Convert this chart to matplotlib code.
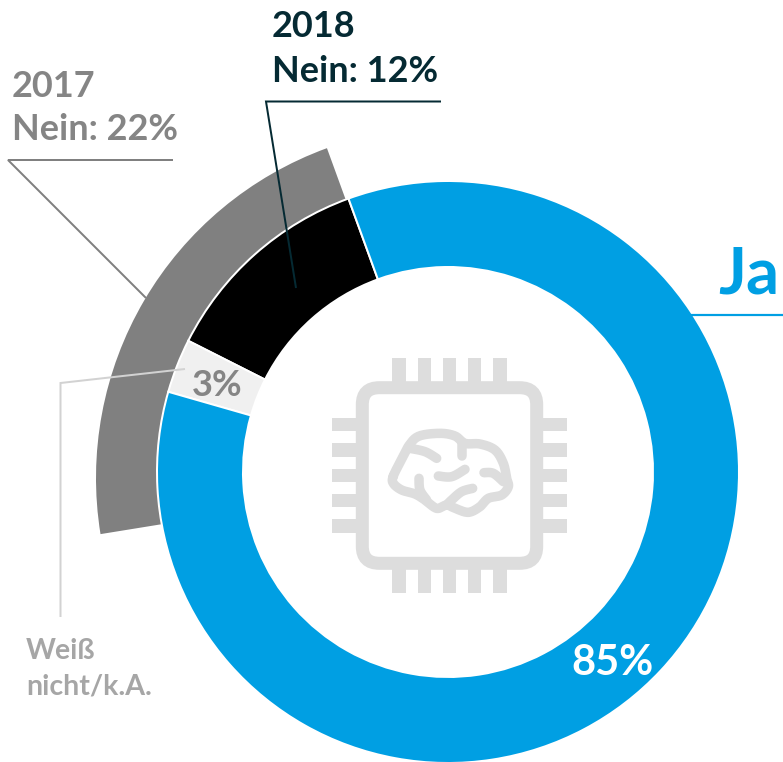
import numpy as np
import matplotlib
matplotlib.use("Agg")
import matplotlib.pyplot as plt
from matplotlib.patches import FancyBboxPatch, Rectangle

# data
categories_2018 = ["Nein", "Weiß nicht/k.A.", "Ja"]
values_2018 = [12, 3, 85]
values_2017 = [22, 78]
year_old = "2017"
year_new = "2018"

W, H = 783, 762
BLUE, BLACK, LIGHT, GRAY = "#009fe3", "#000000", "#f0f0f0", "#808080"
DARK, TXTGRAY, PALE, ICON = "#052a33", "#858585", "#a6a6a6", "#dddddd"
FONT = "Lato"

fig = plt.figure(figsize=(W / 100, H / 100), dpi=100)
ax = fig.add_axes([0, 0, 1, 1])


def Y(y):
    return H - y


def px(p):
    return p * 0.72


# outer 2017 ring
ax.pie(values_2017, colors=[GRAY, "none"], startangle=90 + 20, counterclock=True,
       center=(447, Y(478)), radius=351, wedgeprops=dict(width=72, linewidth=0))
# inner 2018 ring
ax.pie(values_2018, colors=[BLACK, LIGHT, BLUE], startangle=90 + 20, counterclock=True,
       center=(448, Y(472)), radius=291,
       wedgeprops=dict(width=86, linewidth=px(2), edgecolor="white"))

ax.set_xlim(0, W)
ax.set_ylim(0, H)
ax.set_axis_off()


def line(xs, ys, color, lw):
    ax.plot(xs, [Y(v) for v in ys], color=color, lw=px(lw), solid_joinstyle="miter",
            solid_capstyle="butt", zorder=3)


line([441, 266, 296], [101.5, 101.5, 288], DARK, 2)
line([173, 8, 146], [160, 160, 298], GRAY, 2)
line([185, 60.5, 60.5], [369, 383, 617], "#d2d2d2", 2)
line([690, 783], [314.5, 314.5], BLUE, 2.2)


def text(x, y, s, color, size):
    ax.text(x, Y(y), s, color=color, fontsize=size, fontweight="bold", family=FONT,
            ha="left", va="baseline", zorder=4, clip_on=True)


text(272, 37, year_new, DARK, 26)
text(272, 82, f"Nein: {values_2018[0]}%", DARK, 26)
text(12, 97, year_old, TXTGRAY, 26)
text(12, 140, f"Nein: {values_2017[0]}%", TXTGRAY, 26)
text(192, 396, f"{values_2018[1]}%", TXTGRAY, 26)
text(571, 675, f"{values_2018[2]}%", "white", 30)
text(26, 659, "Weiß", PALE, 20.5)
text(26, 695, "nicht/k.A.", PALE, 20.5)
text(718, 294, categories_2018[2], BLUE, 47)

# chip icon
ax.add_patch(FancyBboxPatch((362.3 + 17, Y(563.3) + 17), 174.4 - 34, 175.6 - 34,
                            boxstyle="round,pad=17,rounding_size=17", fc="none", ec=ICON,
                            lw=px(13), zorder=2))
pin = 13.3
for cx in [399, 424.3, 449.3, 474.7, 500]:
    ax.add_patch(Rectangle((cx - pin / 2, Y(382)), pin, 24, fc=ICON, lw=0, zorder=2))
    ax.add_patch(Rectangle((cx - pin / 2, Y(593)), pin, 24, fc=ICON, lw=0, zorder=2))
for cy in [424.7, 450, 475.3, 500.7, 526]:
    ax.add_patch(Rectangle((332, Y(cy + pin / 2)), 25, pin, fc=ICON, lw=0, zorder=2))
    ax.add_patch(Rectangle((542, Y(cy + pin / 2)), 24.5, pin, fc=ICON, lw=0, zorder=2))


def smooth(pts, closed=False, n=12):
    p = np.array(pts, float)
    if closed:
        p = np.vstack([p[-1], p, p[0], p[1]])
    else:
        p = np.vstack([p[0], p, p[-1]])
    out = []
    for i in range(1, len(p) - 2):
        for t in np.linspace(0, 1, n, endpoint=False):
            a, b, c, d = p[i - 1], p[i], p[i + 1], p[i + 2]
            out.append(0.5 * (2 * b + (c - a) * t + (2 * a - 5 * b + 4 * c - d) * t ** 2
                              + (3 * b - a - 3 * c + d) * t ** 3))
    out.append(p[-2])
    return np.array(out)


def brain(pts, closed=False):
    s = smooth(pts, closed)
    ax.plot(330 + s[:, 0] / 3, Y(350 + s[:, 1] / 3), color=ICON, lw=px(9.5),
            solid_capstyle="round", solid_joinstyle="round", zorder=2)


brain([(190, 378), (215, 328), (238, 285), (268, 258), (330, 250), (375, 258), (405, 280),
       (450, 282), (495, 300), (520, 340), (530, 385), (535, 410), (515, 435), (475, 445),
       (450, 470), (415, 487), (375, 475), (350, 465), (320, 475), (285, 450), (255, 432),
       (215, 420), (190, 400)], closed=True)
brain([(240, 295), (285, 305), (320, 325)])
brain([(397, 275), (397, 318)])
brain([(325, 378), (365, 380), (405, 358)])
brain([(462, 368), (490, 370), (520, 395)])
brain([(267, 385), (270, 420), (290, 450)])
brain([(428, 415), (395, 425), (365, 450), (350, 465)])

fig.savefig("out.png", dpi=100, facecolor="white")
